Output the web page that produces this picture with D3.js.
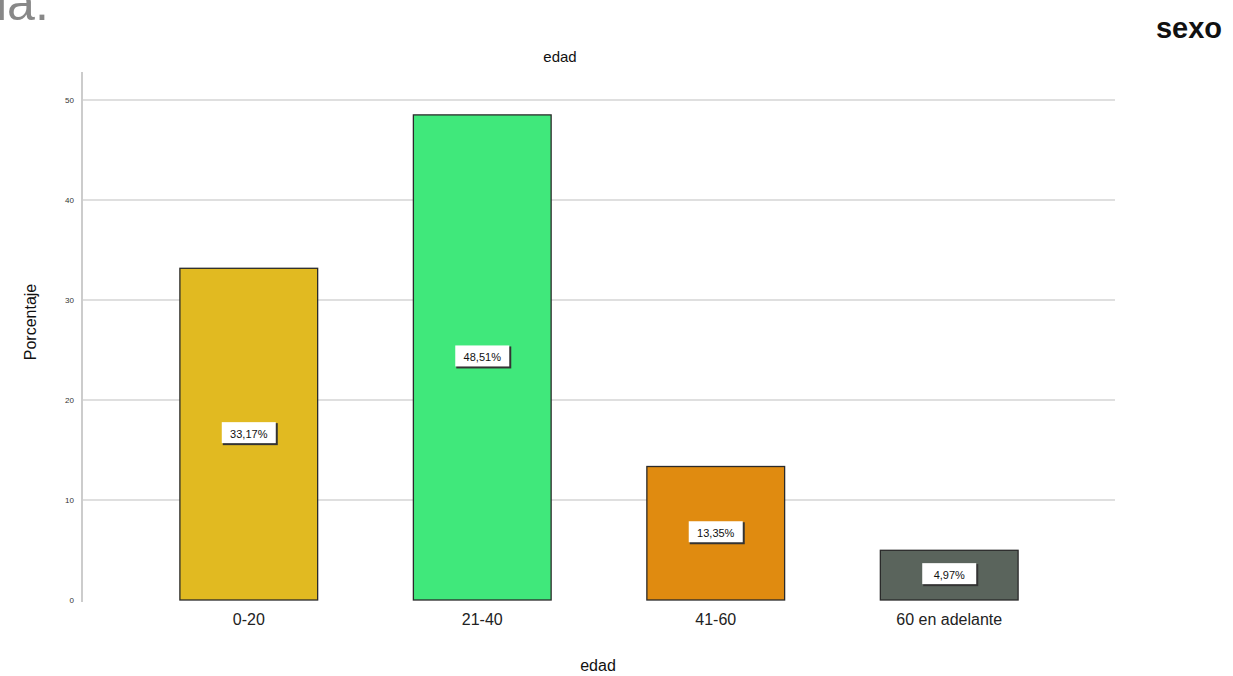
<!DOCTYPE html>
<html>
<head>
<meta charset="utf-8">
<script src="https://cdn.jsdelivr.net/npm/d3@7"></script>
<style>
  body { margin: 0; background: #fff; }
  svg { display: block; font-family: "Liberation Sans", Arial, sans-serif; }
</style>
</head>
<body>
<div id="chart"></div>
<script>
// data
var categories = ["0-20", "21-40", "41-60", "60 en adelante"]
var percents = [33.17, 48.51, 13.35, 4.97]
var percentLabels = ["33,17%", "48,51%", "13,35%", "4,97%"]
var barColors = ["#e1ba21", "#40e87b", "#e08b10", "#5a645c"]
var yTicks = [0, 10, 20, 30, 40, 50]

var width = 1233, height = 676

var svg = d3.select("#chart").append("svg")
    .attr("width", width)
    .attr("height", height)

// leftover text from the page around the chart
svg.append("text")
    .attr("x", -4).attr("y", 20)
    .attr("font-size", 50)
    .attr("fill", "#888")
    .text("la.")

svg.append("text")
    .attr("x", 1222).attr("y", 38)
    .attr("text-anchor", "end")
    .attr("font-size", 29)
    .attr("font-weight", "bold")
    .attr("fill", "#111")
    .text("sexo")

var x = d3.scaleBand()
    .domain(categories)
    .range([83, 1115])
    .paddingInner(0.41)
    .paddingOuter(0.415)

var y = d3.scaleLinear()
    .domain([0, 50])
    .range([600, 100])

// grid lines
svg.append("g")
    .selectAll("line")
    .data(yTicks.slice(1))
    .enter()
    .append("line")
    .attr("x1", 83).attr("x2", 1115)
    .attr("y1", d => y(d)).attr("y2", d => y(d))
    .attr("stroke", "#d4d4d4")
    .attr("stroke-width", 1.5)

// y axis
var yAxis = d3.axisLeft(y).tickValues(yTicks).tickSize(0).tickPadding(8)
var yg = svg.append("g")
    .attr("transform", "translate(82,0)")
    .call(yAxis)
yg.select(".domain").remove()
yg.selectAll("text").attr("font-size", 8).attr("fill", "#333")
svg.append("line")
    .attr("x1", 82).attr("x2", 82)
    .attr("y1", 72).attr("y2", 602)
    .attr("stroke", "#bbb")
    .attr("stroke-width", 1.5)

// bars
svg.selectAll("rect.bar")
    .data(percents)
    .enter()
    .append("rect")
    .attr("class", "bar")
    .attr("x", (d, i) => x(categories[i]))
    .attr("y", d => y(d))
    .attr("width", x.bandwidth())
    .attr("height", d => y(0) - y(d))
    .attr("fill", (d, i) => barColors[i])
    .attr("stroke", "#2a2a2a")
    .attr("stroke-width", 1.3)

// value boxes
var labelG = svg.selectAll("g.lab")
    .data(percents)
    .enter()
    .append("g")
    .attr("class", "lab")
    .attr("transform", (d, i) => "translate(" + (x(categories[i]) + x.bandwidth() / 2) + "," + ((y(d) + y(0)) / 2) + ")")

labelG.append("rect")
    .attr("x", -26).attr("y", -11)
    .attr("width", 55).attr("height", 22)
    .attr("fill", "#333")
labelG.append("rect")
    .attr("x", -27).attr("y", -12)
    .attr("width", 54).attr("height", 21)
    .attr("fill", "#fff")
labelG.append("text")
    .attr("x", 0).attr("y", 4)
    .attr("text-anchor", "middle")
    .attr("font-size", 11)
    .attr("fill", "#111")
    .text((d, i) => percentLabels[i])

// x axis
var xAxis = d3.axisBottom(x).tickSize(0).tickPadding(14)
var xg = svg.append("g")
    .attr("transform", "translate(0,600)")
    .call(xAxis)
xg.select(".domain").remove()
xg.selectAll("text").attr("font-size", 16).attr("fill", "#222")

// titles
svg.append("text")
    .attr("x", 560).attr("y", 62)
    .attr("text-anchor", "middle")
    .attr("font-size", 15)
    .attr("fill", "#111")
    .text("edad")

svg.append("text")
    .attr("x", 598).attr("y", 671)
    .attr("text-anchor", "middle")
    .attr("font-size", 16)
    .attr("fill", "#111")
    .text("edad")

svg.append("text")
    .attr("transform", "translate(36,322) rotate(-90)")
    .attr("text-anchor", "middle")
    .attr("font-size", 16)
    .attr("fill", "#111")
    .text("Porcentaje")
</script>
</body>
</html>
